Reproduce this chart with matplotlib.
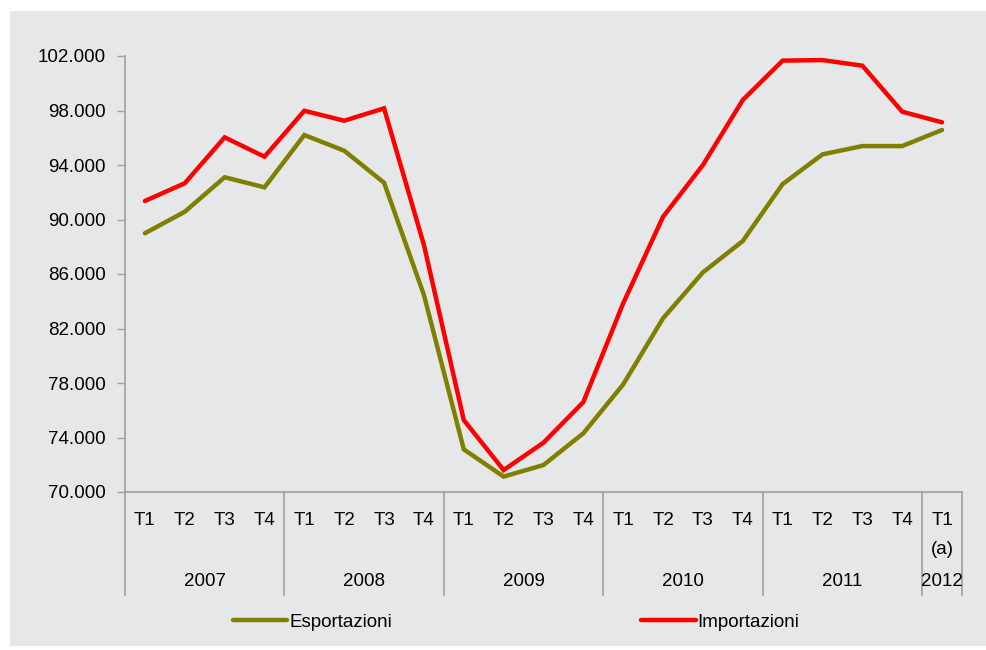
import matplotlib.pyplot as plt
from matplotlib.patches import Rectangle
from matplotlib.ticker import FuncFormatter
import matplotlib.transforms as mtransforms

plt.rcParams['font.family'] = ['Liberation Sans', 'DejaVu Sans']

# quarters 2007 T1 .. 2012 T1
quarters = ['T1', 'T2', 'T3', 'T4'] * 5 + ['T1\n(a)']
years = ['2007', '2008', '2009', '2010', '2011', '2012']
year_len = [4, 4, 4, 4, 4, 1]

esportazioni = [88990, 90570, 93100, 92360, 96200, 95050, 92700, 84460,
                73130, 71130, 71980, 74310, 77900, 82750, 86120, 88420,
                92600, 94780, 95390, 95390, 96570]
importazioni = [91360, 92660, 96030, 94610, 97980, 97250, 98160, 88130,
                75280, 71610, 73620, 76600, 83850, 90200, 94000, 98770,
                101660, 101700, 101290, 97910, 97130]

W, H = 986, 650
FS = 13.5
fig = plt.figure(figsize=(W / 100, H / 100), dpi=100, facecolor='white')
bg = '#e6e7e9'
fig.patches.append(Rectangle((10 / W, 4 / H), (W - 10) / W, (639 - 4) / H,
                             transform=fig.transFigure, facecolor=bg,
                             edgecolor='none', zorder=-10))

left, right, top, bottom = 125, 962, 56, 492
ax = fig.add_axes([left / W, 1 - bottom / H, (right - left) / W, (bottom - top) / H])
ax.set_facecolor('none')

x = list(range(len(quarters)))
l1, = ax.plot(x, esportazioni, color='#808000', lw=3.2, solid_capstyle='round',
              solid_joinstyle='miter', clip_on=False)
l2, = ax.plot(x, importazioni, color='#ff0000', lw=3.2, solid_capstyle='round',
              solid_joinstyle='miter', clip_on=False)

ax.set_xlim(-0.5, len(quarters) - 0.5)
ax.set_ylim(70000, 102000)
ax.set_yticks(range(70000, 102001, 4000))
ax.yaxis.set_major_formatter(FuncFormatter(lambda v, p: '{:,.0f}'.format(v).replace(',', '.')))
ax.tick_params(axis='y', length=6, width=1, color='#a0a0a0', labelsize=FS, pad=8,
               labelcolor='black')
ax.set_xticks([])
for s in ['top', 'right']:
    ax.spines[s].set_visible(False)
for s in ['left', 'bottom']:
    ax.spines[s].set_color('#a0a0a0')
    ax.spines[s].set_linewidth(1.2)

# multi-level category axis
trans = mtransforms.blended_transform_factory(ax.transData, ax.transAxes)
ph = bottom - top
sep_bottom = -(595 - bottom) / ph
bounds = [-0.5]
for n in year_len:
    bounds.append(bounds[-1] + n)
for b in bounds:
    ax.plot([b, b], [0, sep_bottom], color='#a0a0a0', lw=1.2, transform=trans, clip_on=False)

for i, q in enumerate(quarters):
    ax.text(i, -(512 - bottom) / ph, q, transform=trans, ha='center', va='top',
            fontsize=FS, linespacing=1.95)
for y, b0, b1 in zip(years, bounds[:-1], bounds[1:]):
    ax.text((b0 + b1) / 2, -(582 - bottom) / ph, y, transform=trans, ha='center',
            va='center', fontsize=FS)

fig.legend([l1, l2], ['Esportazioni', 'Importazioni'], loc='center left',
           bbox_to_anchor=(233 / W, 1 - 622 / H), ncol=2, frameon=False,
           fontsize=FS, handlelength=2.9, handletextpad=0.1, columnspacing=13.3,
           borderpad=0, borderaxespad=0)

fig.savefig('out.png', dpi=100, facecolor='white')
